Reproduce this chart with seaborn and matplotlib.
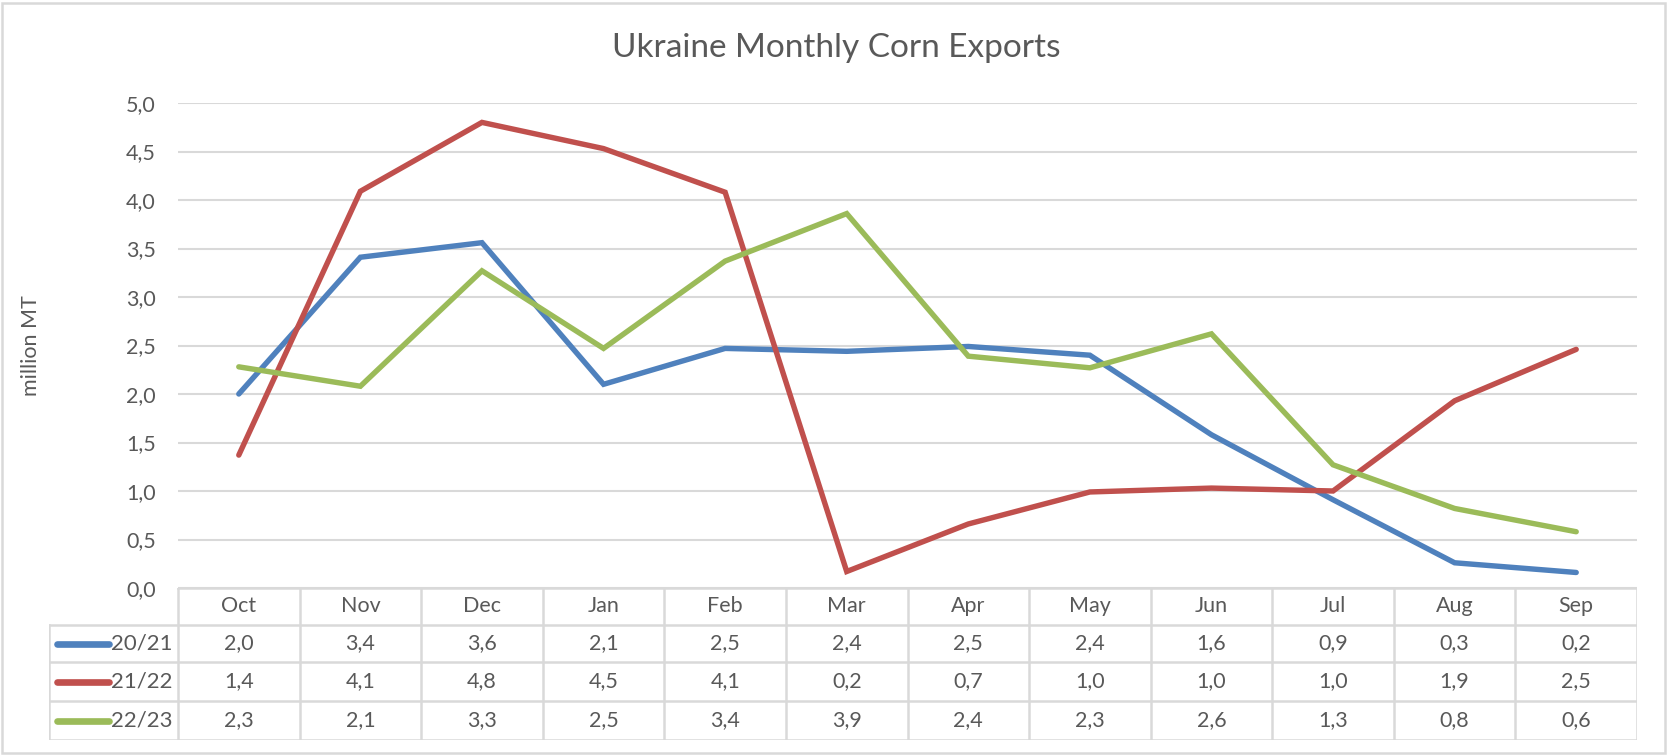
import matplotlib
matplotlib.use("Agg")
import matplotlib.pyplot as plt
import seaborn as sns
import pandas as pd
import numpy as np
from matplotlib.patches import Rectangle

months = ["Oct", "Nov", "Dec", "Jan", "Feb", "Mar", "Apr", "May", "Jun", "Jul", "Aug", "Sep"]
seasons = ["20/21", "21/22", "22/23"]
s2021 = [2.00, 3.41, 3.56, 2.10, 2.47, 2.44, 2.49, 2.40, 1.58, 0.91, 0.26, 0.16]
s2122 = [1.37, 4.09, 4.80, 4.53, 4.08, 0.17, 0.66, 0.99, 1.03, 1.00, 1.93, 2.46]
s2223 = [2.28, 2.08, 3.27, 2.47, 3.37, 3.86, 2.39, 2.27, 2.62, 1.27, 0.82, 0.58]
colors = ["#4F81BD", "#C0504D", "#9BBB59"]
yticks = [0.0, 0.5, 1.0, 1.5, 2.0, 2.5, 3.0, 3.5, 4.0, 4.5, 5.0]

sns.set_theme(style="white")
plt.rcParams["font.family"] = ["Lato", "DejaVu Sans"]
TXT = "#595959"
GRID = "#D9D9D9"
FS = 15.5

df = pd.DataFrame({"month": months * 3,
                   "x": list(range(12)) * 3,
                   "season": [s for s in seasons for _ in months],
                   "value": s2021 + s2122 + s2223})

W, H = 1667, 755
fig = plt.figure(figsize=(W / 100, H / 100), dpi=100)

L, R = 178, 1637
T, B = 103, 588
ax = fig.add_axes([L / W, 1 - B / H, (R - L) / W, (B - T) / H])

sns.lineplot(data=df, x="x", y="value", hue="season", palette=colors,
             linewidth=3.9, ax=ax, legend=False, sort=False,
             solid_capstyle="round", solid_joinstyle="miter")
ax.set_xlim(-0.5, 11.5)
ax.set_ylim(0, 5)
ax.set_yticks(yticks)
ax.set_yticklabels([f"{v:.1f}".replace(".", ",") for v in yticks], fontsize=FS, color=TXT)
ax.set_xticks([])
ax.set_xlabel("")
ax.set_ylabel("million MT", fontsize=FS, color=TXT, labelpad=0)
ax.yaxis.set_label_coords(-(178 - 41) / (R - L), 0.5)
ax.tick_params(axis="y", length=0, pad=16)
for sp in ax.spines.values():
    sp.set_visible(False)
ax.grid(axis="y", color=GRID, linewidth=1.5)
ax.set_axisbelow(True)

# data table
tb = 740
tax = fig.add_axes([49 / W, 1 - tb / H, (R - 49) / W, (tb - B) / H])
colw = (R - L) / 12
lab_w = (L - 49) / colw
tax.set_xlim(-0.5 - lab_w, 11.5)
rows = [0, 37, 74, 113, 152]
tax.set_ylim(152, 0)
tax.axis("off")
lkw = dict(color=GRID, linewidth=1.8, solid_capstyle="projecting")
tax.plot([-0.5, 11.5], [0, 0], **lkw)
for yb in rows[1:]:
    tax.plot([-0.5 - lab_w, 11.5], [yb, yb], **lkw)
for xb in np.arange(-0.5, 12, 1.0):
    tax.plot([xb, xb], [0, 152], **lkw)
tax.plot([-0.5 - lab_w, -0.5 - lab_w], [rows[1], 152], **lkw)
for i, m in enumerate(months):
    tax.text(i, (rows[0] + rows[1]) / 2, m, ha="center", va="center", fontsize=FS, color=TXT)
for r, (name, vals, c) in enumerate(zip(seasons, [s2021, s2122, s2223], colors)):
    yc = (rows[r + 1] + rows[r + 2]) / 2
    for i, v in enumerate(vals):
        tax.text(i, yc, f"{v:.1f}".replace(".", ","), ha="center", va="center", fontsize=FS, color=TXT)
    tax.text(-0.5 - 6 / colw, yc, name, ha="right", va="center", fontsize=FS + 0.5, color=TXT)
    x0 = -0.5 - lab_w + (8 / colw)
    x1 = -0.5 - lab_w + (60 / colw)
    tax.plot([x0, x1], [yc, yc], color=c, linewidth=4.8, solid_capstyle="round")

fig.text(836 / W, 1 - 48 / H, "Ukraine Monthly Corn Exports", ha="center", va="center",
         fontsize=24, color=TXT)

fig.patches.append(Rectangle((2 / W, 2 / H), (W - 4) / W, (H - 5) / H, transform=fig.transFigure,
                             fill=False, edgecolor=GRID, linewidth=1.8))

fig.savefig("out.png", dpi=100, facecolor="white")
